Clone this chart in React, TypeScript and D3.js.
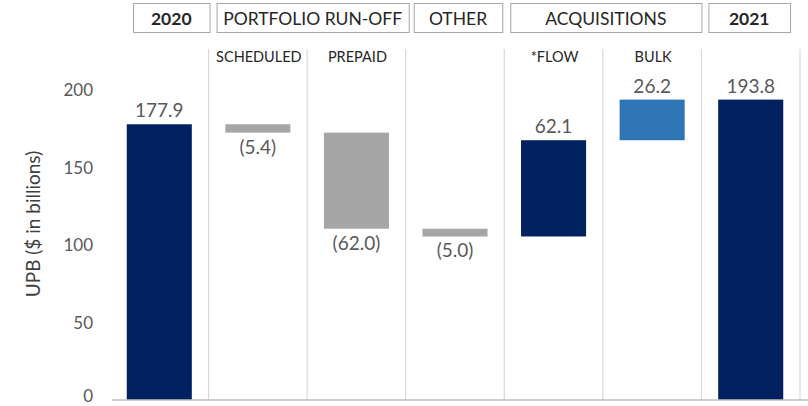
import React from "react";
import * as d3 from "d3";

const categories = ["2020", "SCHEDULED", "PREPAID", "OTHER", "*FLOW", "BULK", "2021"];
const values = [177.9, -5.4, -62.0, -5.0, 62.1, 26.2, 193.8];
const valueLabels = ["177.9", "(5.4)", "(62.0)", "(5.0)", "62.1", "26.2", "193.8"];
const kinds = ["total", "neg", "neg", "neg", "pos", "bulk", "total"];
const subLabels = ["", "SCHEDULED", "PREPAID", "", "*FLOW", "BULK", ""];
const headerLabels = ["2020", "PORTFOLIO RUN-OFF", "OTHER", "ACQUISITIONS", "2021"];
const headerFirst = [0, 1, 3, 4, 6];
const headerLast = [0, 2, 3, 5, 6];
const headerBold = [true, false, false, false, true];
const yTicks = [0, 50, 100, 150, 200];

const W = 808;
const H = 406;
const FONT = "Lato, 'Open Sans', sans-serif";
const colors: Record<string, string> = {
  total: "#002060",
  neg: "#A6A6A6",
  pos: "#002060",
  bulk: "#2E75B6",
};

export default function App() {
  const x = d3.scaleBand<string>().domain(categories).range([110, 800]).paddingInner(0).paddingOuter(0);
  const y = d3.scaleLinear().domain([0, 200]).range([400, 90]);
  const bw = x.bandwidth();
  const barW = bw * 0.66;

  let running = 0;
  const bars = categories.map((c, i) => {
    let y0: number, y1: number;
    if (kinds[i] === "total") {
      y0 = 0;
      y1 = values[i];
      running = values[i];
    } else {
      y0 = running;
      y1 = running + values[i];
      running = y1;
    }
    return { c, i, y0, y1, lo: Math.min(y0, y1), hi: Math.max(y0, y1) };
  });

  const headerLeftInset = [23, 8, 8, 6, 7];
  const headerRightInset = [-1, -3, 2, 0, 10];

  return (
    <svg width={W} height={H} style={{ position: "absolute", left: 0, top: 0, background: "#fff" }} fontFamily={FONT}>
      <rect x={0} y={0} width={W} height={H} fill="#fff" />
      {categories.slice(1).map((c) => (
        <line key={c} x1={x(c)!} x2={x(c)!} y1={49} y2={400} stroke="#D9D9D9" strokeWidth={1.2} />
      ))}
      <line x1={800} x2={800} y1={49} y2={400} stroke="#D9D9D9" strokeWidth={1.2} />

      {headerLabels.map((h, k) => {
        const x0 = x(categories[headerFirst[k]])! + headerLeftInset[k];
        const x1 = x(categories[headerLast[k]])! + bw - headerRightInset[k];
        return (
          <g key={h}>
            <rect x={x0 + 0.5} y={3.5} width={x1 - x0} height={29} fill="#fff" stroke="#A6A6A6" strokeWidth={1} />
            <text
              x={(x0 + x1) / 2}
              y={24.5}
              textAnchor="middle"
              fontSize={17.5}
              fontWeight={headerBold[k] ? 700 : 400}
              fill="#262626"
            >
              {h}
            </text>
          </g>
        );
      })}

      {subLabels.map((s, i) =>
        s ? (
          <text key={s} x={x(categories[i])! + bw / 2 + 1} y={61.5} textAnchor="middle" fontSize={14.5} fill="#262626">
            {s}
          </text>
        ) : null
      )}

      {bars.map((b) => (
        <rect
          key={b.c}
          x={x(b.c)! + (bw - barW) / 2}
          y={y(b.hi)}
          width={barW}
          height={y(b.lo) - y(b.hi)}
          fill={colors[kinds[b.i]]}
        />
      ))}

      {bars.map((b) => {
        const neg = values[b.i] < 0;
        return (
          <text
            key={b.c}
            x={x(b.c)! + bw / 2}
            y={neg ? y(b.lo) + 21 : y(b.hi) - 7}
            textAnchor="middle"
            fontSize={19}
            fill="#595959"
          >
            {valueLabels[b.i]}
          </text>
        );
      })}

      <line x1={112} x2={808} y1={400} y2={400} stroke="#BFBFBF" strokeWidth={1.5} />

      {yTicks.map((t) => (
        <text key={t} x={93} y={Math.min(y(t) + 6, 402)} textAnchor="end" fontSize={17} fill="#595959">
          {t}
        </text>
      ))}

      <text
        transform={`translate(40,${(145 + 303) / 2}) rotate(-90)`}
        textAnchor="middle"
        fontSize={19}
        fill="#404040"
      >
        UPB ($ in billions)
      </text>
    </svg>
  );
}
